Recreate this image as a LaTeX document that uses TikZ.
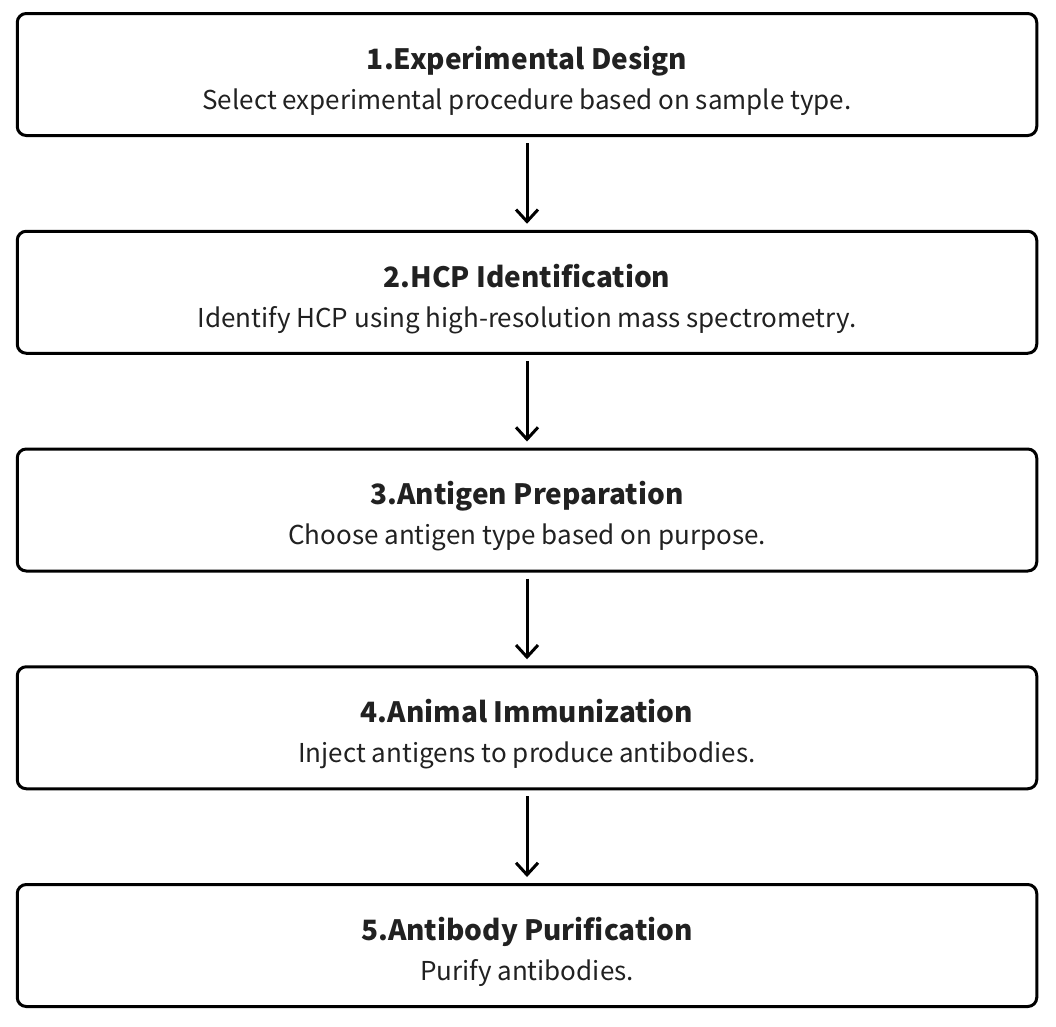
\documentclass[tikz,border=0pt]{standalone}
\usepackage{fontspec}
\setmainfont{Noto Sans CJK SC}
\usepackage{tikz}
\usetikzlibrary{positioning,arrows.meta}

\tikzset{
    stepbox/.style={draw=black, line width=3pt, rounded corners=9pt,
        minimum width=1019.5pt, minimum height=122pt, align=center,
        inner sep=0pt, text=black!87,
        font=\fontsize{26}{40}\selectfont},
    flow/.style={line width=3pt, -{Straight Barb[length=12pt,width=22pt,line width=3pt]},
        shorten <=6pt, shorten >=6pt}
}
\newcommand{\steptitle}[1]{{\fontsize{28}{40}\selectfont\bfseries\rule{0pt}{36pt}#1}}

\begin{document}
\begin{tikzpicture}[x=1pt, y=-1pt, node distance=92.75pt]

    % Frame
    \useasboundingbox (0,0) rectangle (1056,1026);

    % Steps
    \node[stepbox] (design) at (527,74.5)
        {\steptitle{1.Experimental Design}\\Select experimental procedure based on sample type.};
    \node[stepbox, below=of design] (hcp)
        {\steptitle{2.HCP Identification}\\Identify HCP using high-resolution mass spectrometry.};
    \node[stepbox, below=of hcp] (antigen)
        {\steptitle{3.Antigen Preparation}\\Choose antigen type based on purpose.};
    \node[stepbox, below=of antigen] (immun)
        {\steptitle{4.Animal Immunization}\\Inject antigens to produce antibodies.};
    \node[stepbox, below=of immun] (purif)
        {\steptitle{5.Antibody Purification}\\Purify antibodies.};

    % Arrows
    \draw[flow] (design) -- (hcp);
    \draw[flow] (hcp) -- (antigen);
    \draw[flow] (antigen) -- (immun);
    \draw[flow] (immun) -- (purif);
\end{tikzpicture}
\end{document}
